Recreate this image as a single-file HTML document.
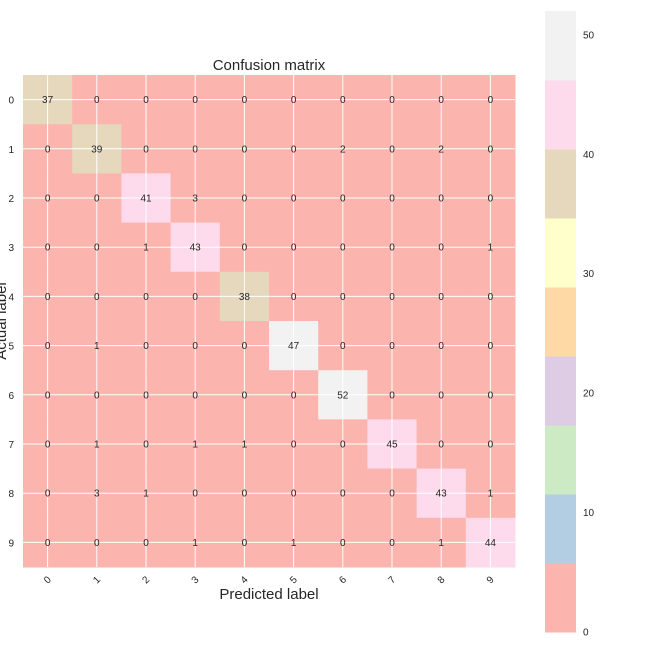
<!DOCTYPE html>
<html><head><meta charset="utf-8"><style>body{margin:0;background:#fff}svg{display:block;font-family:"Liberation Sans",sans-serif}</style></head>
<body>
<svg id="c" width="648" height="648"></svg>
<script>
const labels=["0","1","2","3","4","5","6","7","8","9"];
const matrix=[
[37,0,0,0,0,0,0,0,0,0],
[0,39,0,0,0,0,2,0,2,0],
[0,0,41,3,0,0,0,0,0,0],
[0,0,1,43,0,0,0,0,0,1],
[0,0,0,0,38,0,0,0,0,0],
[0,1,0,0,0,47,0,0,0,0],
[0,0,0,0,0,0,52,0,0,0],
[0,1,0,1,1,0,0,45,0,0],
[0,3,1,0,0,0,0,0,43,1],
[0,0,0,1,0,1,0,0,1,44]];
const cbTicks=[0,10,20,30,40,50];
const palette=["#fbb4ae","#b3cde3","#ccebc5","#decbe4","#fed9a6","#ffffcc","#e5d8bd","#fddaec","#f2f2f2"];
const vmin=0,vmax=52;
const NS="http://www.w3.org/2000/svg",svg=document.getElementById('c');
function el(t,a,txt){const e=document.createElementNS(NS,t);for(const k in a)e.setAttribute(k,a[k]);if(txt!==undefined)e.textContent=txt;svg.appendChild(e);return e;}
const X0=23,Y0=75,W=492,H=492,n=labels.length,cw=W/n,ch=H/n;
const xs=i=>X0+i*cw, ys=i=>Y0+i*ch;
function col(v){let k=Math.floor((v-vmin)/(vmax-vmin)*palette.length);return palette[Math.max(0,Math.min(palette.length-1,k))];}
el('text',{x:6,y:321,"text-anchor":"middle","font-size":15,fill:"#262626",transform:"rotate(-90 6 321)",},"Actual label");
for(let r=0;r<n;r++)for(let c=0;c<n;c++){
 const e=el('rect',{x:xs(c),y:ys(r),width:cw+0.5,height:ch+0.5,fill:col(matrix[r][c])});
 
 
}
for(let i=0;i<n;i++){
 el('line',{x1:xs(i)+cw/2,x2:xs(i)+cw/2,y1:Y0,y2:Y0+H,stroke:"#fff","stroke-width":1});
 el('line',{y1:ys(i)+ch/2,y2:ys(i)+ch/2,x1:X0,x2:X0+W,stroke:"#fff","stroke-width":1});
}
for(let r=0;r<n;r++)for(let c=0;c<n;c++){
 const t=el('text',{x:xs(c)+cw/2,y:ys(r)+ch/2+3.5,"text-anchor":"middle","font-size":10,fill:"#262626"},matrix[r][c]);
 
 
}
for(let i=0;i<n;i++){
 const t=el('text',{x:14,y:ys(i)+ch/2+4,"text-anchor":"end","font-size":10,fill:"#262626"},labels[i]);
 
 
 const cx=xs(i)+cw/2,cy=583;
 const u=el('text',{x:cx,y:cy,"text-anchor":"middle","font-size":10,fill:"#262626",transform:`rotate(-45 ${cx} ${cy-3})`},labels[i]);
 
 
}
el('text',{x:269,y:70,"text-anchor":"middle","font-size":15,fill:"#262626",},"Confusion matrix");
el('text',{x:269,y:599,"text-anchor":"middle","font-size":15,fill:"#262626",},"Predicted label");
const CX=545,CW=31,CT=11,CB=632;
const cy=v=>CB-(v-vmin)/(vmax-vmin)*(CB-CT);
for(let k=0;k<palette.length;k++){
 const a=vmin+k*(vmax-vmin)/palette.length,b=vmin+(k+1)*(vmax-vmin)/palette.length;
 const e=el('rect',{x:CX,y:cy(b),width:CW,height:cy(a)-cy(b)+0.5,fill:palette[k]});
 
 
}
cbTicks.forEach(v=>{
 const t=el('text',{x:583,y:cy(v)+3.5,"font-size":10,fill:"#262626"},v);
 
 
});
</script>
</body></html>
